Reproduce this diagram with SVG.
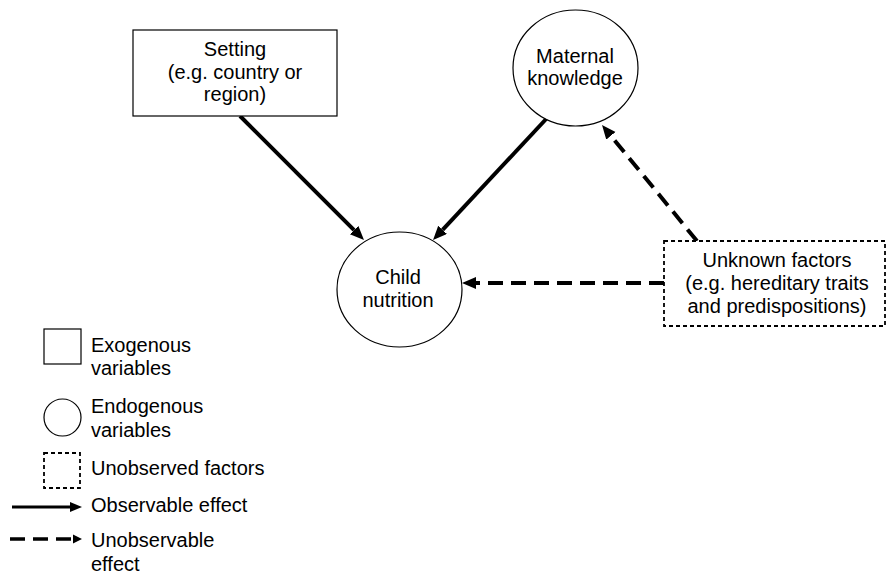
<svg xmlns="http://www.w3.org/2000/svg" width="888" height="578" viewBox="0 0 888 578">
<defs>
<style>
text{font-family:"Liberation Sans",Arial,sans-serif;font-size:20px;fill:#000}
.mid{text-anchor:middle}
.node{fill:#fff;stroke:#000;stroke-width:1.2}
.dbox{fill:#fff;stroke:#000;stroke-width:1.8;stroke-dasharray:4 3}
.solid{stroke:#000;stroke-width:4;fill:none}
.dash{stroke:#000;stroke-width:4;fill:none;stroke-dasharray:15 8}
</style>
<marker id="ah" markerUnits="userSpaceOnUse" markerWidth="16" markerHeight="14" refX="0" refY="6" orient="auto">
<path d="M0,0 L14,6 L0,12 z" fill="#000"/>
</marker>
</defs>

<g id="connectors">
<line class="solid" x1="240" y1="116" x2="354.1" y2="230.1" marker-end="url(#ah)"/>
<line class="solid" x1="548" y1="117" x2="442.6" y2="229.8" marker-end="url(#ah)"/>
<line class="dash" x1="697" y1="241" x2="610.9" y2="135.8" marker-end="url(#ah)"/>
<line class="dash" x1="664" y1="283" x2="476" y2="283" marker-end="url(#ah)"/>
</g>

<g id="setting">
<rect class="node" x="133" y="30" width="204" height="86"/>
<text class="mid" x="235" y="56">Setting</text>
<text class="mid" x="235" y="78.5">(e.g. country or</text>
<text class="mid" x="235" y="101">region)</text>
</g>

<g id="maternal">
<ellipse class="node" cx="575.5" cy="68" rx="62.5" ry="58"/>
<text class="mid" x="575" y="63">Maternal</text>
<text class="mid" x="575" y="85">knowledge</text>
</g>

<g id="child">
<ellipse class="node" cx="399.5" cy="289.5" rx="62.5" ry="57.5"/>
<text class="mid" x="398" y="284">Child</text>
<text class="mid" x="398" y="307">nutrition</text>
</g>

<g id="unknown">
<rect class="dbox" x="664" y="241" width="221" height="85"/>
<text class="mid" x="777" y="267">Unknown factors</text>
<text class="mid" x="777" y="290">(e.g. hereditary traits</text>
<text class="mid" x="777" y="313">and predispositions)</text>
</g>

<g id="legend">
<rect class="node" x="44" y="329" width="37" height="35"/>
<text x="91" y="352">Exogenous</text>
<text x="91" y="375">variables</text>
<ellipse class="node" cx="62.5" cy="417.5" rx="18.5" ry="18.5"/>
<text x="91" y="413">Endogenous</text>
<text x="91" y="437">variables</text>
<rect class="dbox" x="44" y="453" width="36" height="35"/>
<text x="91" y="475">Unobserved factors</text>
<line x1="12" y1="507" x2="71" y2="507" stroke="#000" stroke-width="3"/>
<polygon points="70,502 82,507 70,512" fill="#000"/>
<text x="91" y="512">Observable effect</text>
<line x1="10" y1="539" x2="71" y2="539" stroke="#000" stroke-width="3.5" stroke-dasharray="15 8"/>
<polygon points="73,534.5 82,539 73,543.5" fill="#000"/>
<text x="91" y="547">Unobservable</text>
<text x="91" y="571">effect</text>
</g>
</svg>
